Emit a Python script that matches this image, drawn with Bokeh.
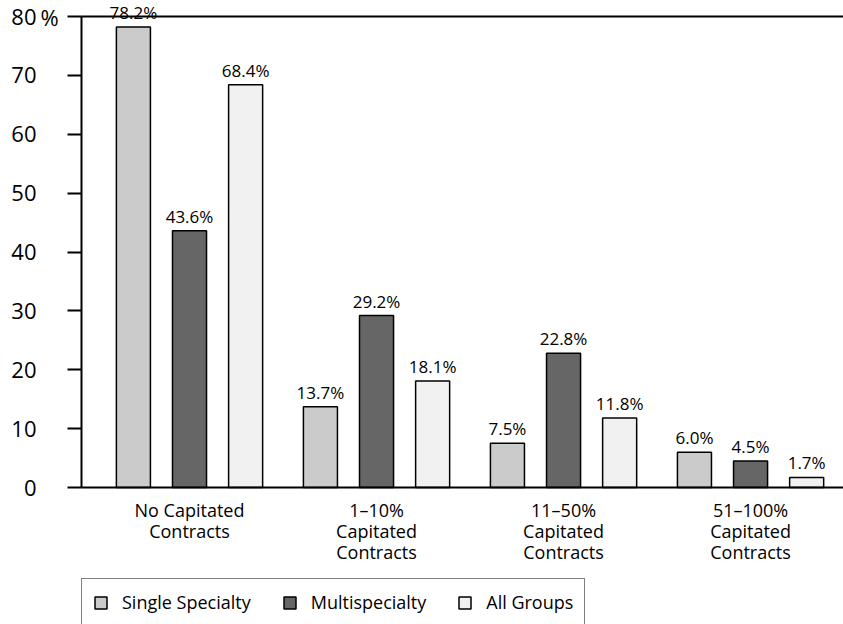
from bokeh.plotting import figure
from bokeh.models import (ColumnDataSource, Range1d, FixedTicker, Label,
                          Legend, LegendItem, LinearAxis)
from bokeh.transform import dodge
from bokeh.core.properties import value
from bokeh.embed import file_html
from bokeh.resources import INLINE

# --- data -------------------------------------------------------------
categories = [
    "No Capitated\nContracts",
    "1–10%\nCapitated\nContracts",
    "11–50%\nCapitated\nContracts",
    "51–100%\nCapitated\nContracts",
]
single_specialty = [78.2, 13.7, 7.5, 6.0]
multispecialty = [43.6, 29.2, 22.8, 4.5]
all_groups = [68.4, 18.1, 11.8, 1.7]
series_names = ["Single Specialty", "Multispecialty", "All Groups"]
y_ticks = [0, 10, 20, 30, 40, 50, 60, 70, 80]
y_top = 80

# --- styling ----------------------------------------------------------
FONT = "Open Sans"
COLORS = ["#cbcbcb", "#666666", "#f1f1f1"]
OFFSETS = [-0.30, 0.0, 0.30]
BAR_W = 0.182
X_LEFT = -0.5775          # where the value axis stands
X_RANGE = (-1.0107, 3.497)
Y_RANGE = (-23.27, 82.72)

group_idx = list(range(len(categories)))
src = ColumnDataSource(dict(
    x=group_idx,
    single=single_specialty,
    multi=multispecialty,
    allg=all_groups,
    single_lbl=[f"{v:.1f}%" for v in single_specialty],
    multi_lbl=[f"{v:.1f}%" for v in multispecialty],
    allg_lbl=[f"{v:.1f}%" for v in all_groups],
))

# the frame fills the whole canvas; the axes are pinned inside it
p = figure(width=843, height=624, output_backend="svg", toolbar_location=None,
           x_range=Range1d(*X_RANGE), y_range=Range1d(*Y_RANGE),
           min_border_left=0, min_border_right=0, min_border_top=0,
           min_border_bottom=0)
p.outline_line_color = None
p.xgrid.visible = False
p.ygrid.visible = False
p.background_fill_color = "white"
p.border_fill_color = "white"

# value axis
ya = p.yaxis[0]
ya.fixed_location = X_LEFT
ya.ticker = FixedTicker(ticks=y_ticks)
ya.bounds = (0, y_top)
ya.axis_line_width = 2
ya.axis_line_color = "black"
ya.major_tick_out = 14
ya.major_tick_in = 0
ya.major_tick_line_width = 2
ya.major_tick_line_color = "black"
ya.minor_tick_line_color = None
ya.major_label_text_font = FONT
ya.major_label_text_font_size = "22px"
ya.major_label_text_color = "black"
ya.major_label_text_align = "right"
ya.major_label_standoff = 31

# category axis
xa = p.xaxis[0]
xa.fixed_location = 0
xa.bounds = (X_LEFT, X_RANGE[1])
xa.ticker = FixedTicker(ticks=group_idx)
xa.major_label_overrides = {i: c for i, c in zip(group_idx, categories)}
xa.axis_line_width = 2
xa.axis_line_color = "black"
xa.major_tick_out = 0
xa.major_tick_in = 0
xa.minor_tick_line_color = None
xa.major_label_text_font = FONT
xa.major_label_text_font_size = "18px"
xa.major_label_text_line_height = 0.88
xa.major_label_text_color = "black"
xa.major_label_standoff = 10

# top rule at 80
top_rule = LinearAxis(fixed_location=y_top, bounds=(X_LEFT, X_RANGE[1]),
                      ticker=FixedTicker(ticks=[]), axis_line_width=2,
                      axis_line_color="black", major_tick_out=0, major_tick_in=0,
                      minor_tick_line_color=None, major_label_text_font_size="0px")
p.add_layout(top_rule, "above")
p.add_layout(Label(x=-0.797, y=y_top, text="%",
                   text_font=FONT, text_font_size="22px", text_baseline="middle",
                   text_align="left", text_color="black"))

renderers = []
for col, off, color in zip(["single", "multi", "allg"], OFFSETS, COLORS):
    r = p.vbar(x=dodge("x", off, range=p.x_range), top=col, width=BAR_W,
               source=src, fill_color=color, line_color="black", line_width=1.5)
    renderers.append(r)
    p.text(x=dodge("x", off, range=p.x_range), y=col, text=col + "_lbl",
           source=src, text_align="center", text_baseline="bottom",
           y_offset=-3, text_font=value(FONT), text_font_size="17px",
           text_color="black")

legend = Legend(items=[LegendItem(label=n, renderers=[r])
                       for n, r in zip(series_names, renderers)],
                orientation="horizontal", location=(81, -2),
                padding=11, spacing=31, label_standoff=14, margin=0,
                glyph_width=15, glyph_height=15, label_height=15,
                label_text_font=FONT, label_text_font_size="18px",
                label_text_color="black",
                border_line_color="black", border_line_width=1.5,
                background_fill_color="white", background_fill_alpha=1.0)
p.add_layout(legend, "center")

open("out.html", "w").write(file_html(p, INLINE))
